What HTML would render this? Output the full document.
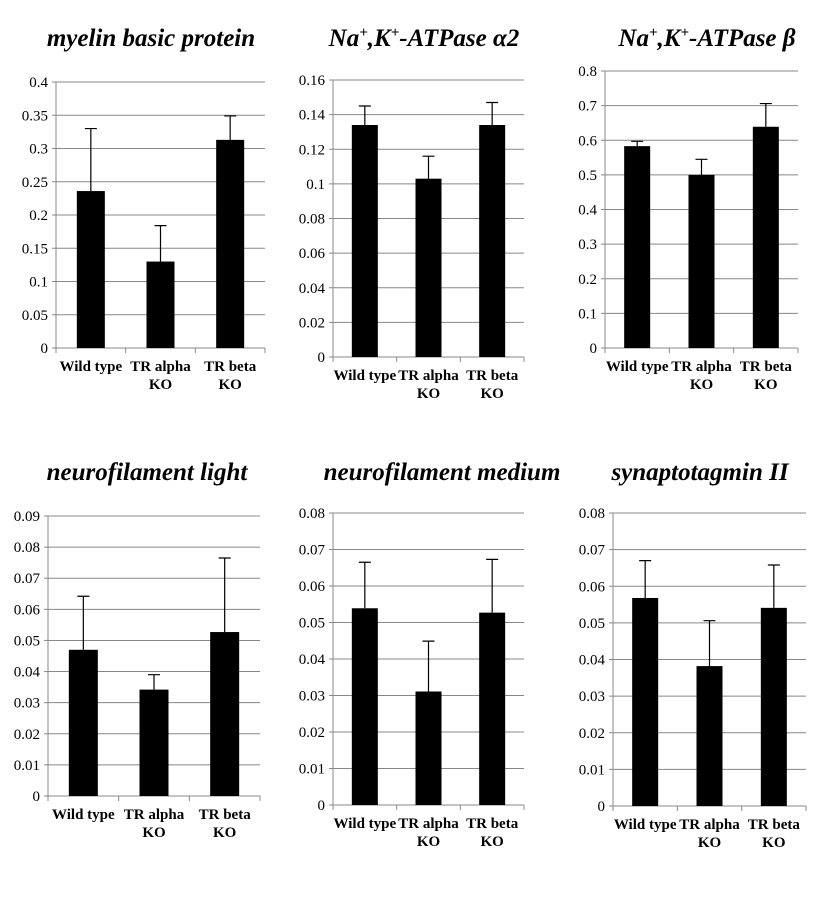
<!DOCTYPE html>
<html><head><meta charset="utf-8"><style>
body{margin:0;background:#fff;width:835px;height:894px;overflow:hidden}
svg text{font-family:"Liberation Serif",serif}
</style></head><body>
<svg id="c" width="835" height="894" xmlns="http://www.w3.org/2000/svg">
<text x="151" y="46" text-anchor="middle" font-size="25" font-weight="bold" font-style="italic">myelin basic protein</text>
<text x="424" y="46" text-anchor="middle" font-size="25" font-weight="bold" font-style="italic">Na<tspan font-size="15" dy="-9">+</tspan><tspan dy="9">,K</tspan><tspan font-size="15" dy="-9">+</tspan><tspan dy="9">-ATPase α2</tspan></text>
<text x="707" y="46" text-anchor="middle" font-size="25" font-weight="bold" font-style="italic">Na<tspan font-size="15" dy="-9">+</tspan><tspan dy="9">,K</tspan><tspan font-size="15" dy="-9">+</tspan><tspan dy="9">-ATPase β</tspan></text>
<text x="147" y="480" text-anchor="middle" font-size="25" font-weight="bold" font-style="italic">neurofilament light</text>
<text x="442" y="480" text-anchor="middle" font-size="25" font-weight="bold" font-style="italic">neurofilament medium</text>
<text x="700" y="480" text-anchor="middle" font-size="25" font-weight="bold" font-style="italic">synaptotagmin II</text>
</svg>
<script>
const categories=[["Wild type"],["TR alpha","KO"],["TR beta","KO"]];
const mbpValues=[0.236,0.13,0.313];
const mbpErr=[0.33,0.184,0.349];
const a2Values=[0.134,0.103,0.134];
const a2Err=[0.145,0.116,0.147];
const bValues=[0.583,0.5,0.639];
const bErr=[0.597,0.545,0.706];
const nflValues=[0.047,0.0342,0.0527];
const nflErr=[0.0642,0.039,0.0765];
const nfmValues=[0.0539,0.0311,0.0527];
const nfmErr=[0.0665,0.0449,0.0673];
const synValues=[0.0568,0.0382,0.0541];
const synErr=[0.067,0.0506,0.0658];
const mbpTicks=["0","0.05","0.1","0.15","0.2","0.25","0.3","0.35","0.4"];
const a2Ticks=["0","0.02","0.04","0.06","0.08","0.1","0.12","0.14","0.16"];
const bTicks=["0","0.1","0.2","0.3","0.4","0.5","0.6","0.7","0.8"];
const nflTicks=["0","0.01","0.02","0.03","0.04","0.05","0.06","0.07","0.08","0.09"];
const nfTicks=["0","0.01","0.02","0.03","0.04","0.05","0.06","0.07","0.08"];

const svg=document.getElementById('c');
const NS="http://www.w3.org/2000/svg";
function mk(tag,attrs){const e=document.createElementNS(NS,tag);for(const k in attrs)e.setAttribute(k,attrs[k]);svg.appendChild(e);return e;}
function chart(id,L,R,T,B,ticks,vals,errs,bw){
  const max=parseFloat(ticks[ticks.length-1]);
  const y=v=>B-(v/max)*(B-T);
  const cw=(R-L)/vals.length;
  const x=i=>L+cw*(i+0.5);
  ticks.forEach(t=>{
    const v=parseFloat(t);
    const g=mk('line',{x1:L,x2:R,y1:y(v),y2:y(v),stroke:'#888','stroke-width':1});
    
    
    const tl=mk('line',{x1:L-4,x2:L,y1:y(v),y2:y(v),stroke:'#888'});
    
    
    const tx=mk('text',{x:L-8,y:y(v)+5,'text-anchor':'end','font-size':15});
    tx.textContent=t;
    
    
  });
  const ax=mk('line',{x1:L,x2:L,y1:T,y2:B,stroke:'#888'});
  
  
  for(let i=0;i<=vals.length;i++){
    const t=mk('line',{x1:L+cw*i,x2:L+cw*i,y1:B,y2:B+5,stroke:'#888'});
    
    
  }
  vals.forEach((v,i)=>{
    const b=mk('rect',{x:x(i)-bw/2,y:y(v),width:bw,height:B-y(v),fill:'#000'});
    
    
    const e=mk('path',{d:`M${x(i)},${y(v)}V${y(errs[i])}M${x(i)-6},${y(errs[i])}H${x(i)+6}`,stroke:'#000','stroke-width':1.2,fill:'none'});
    
    
    categories[i].forEach((ln,j)=>{
      const c=mk('text',{x:x(i),y:B+23+j*18,'text-anchor':'middle','font-size':15,'font-weight':'bold'});
      c.textContent=ln;
      
      
    });
  });
}
chart('mbp',56,265,82,348,mbpTicks,mbpValues,mbpErr,28);
chart('atpase-a2',333,524,80,357,a2Ticks,a2Values,a2Err,26);
chart('atpase-b',605,798,71,348,bTicks,bValues,bErr,26);
chart('nf-light',48,260,516,796,nflTicks,nflValues,nflErr,29);
chart('nf-medium',333,524,513,805,nfTicks,nfmValues,nfmErr,26);
chart('synaptotagmin',613,806,513,806,nfTicks,synValues,synErr,26);
</script>
</body></html>
